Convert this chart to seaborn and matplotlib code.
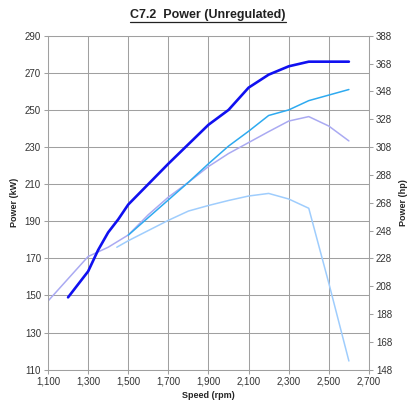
import matplotlib
matplotlib.use("Agg")
import matplotlib.pyplot as plt
import seaborn as sns
from matplotlib.lines import Line2D

# values (kW vs rpm)
rpm_a = [1200, 1300, 1350, 1400, 1450, 1500, 1600, 1700, 1800, 1900, 2000, 2100, 2200, 2300, 2400, 2500, 2600]
kw_a = [149, 163, 174.5, 184, 191, 199, 210, 221, 231.5, 242, 250, 262, 269, 273.5, 276, 276, 276]

rpm_b = [1500, 1600, 1700, 1800, 1900, 2000, 2100, 2200, 2300, 2400, 2500, 2600]
kw_b = [182.5, 192, 201.5, 211, 221, 230.5, 238.5, 247, 250, 255, 258, 261]

rpm_c = [1100, 1200, 1300, 1400, 1500, 1600, 1700, 1800, 1900, 2000, 2100, 2200, 2300, 2400, 2500, 2600]
kw_c = [147, 159, 171, 176, 182.6, 193.5, 203, 211, 219.5, 226.5, 232.4, 238.3, 244, 246.4, 241.3, 233.3]

rpm_d = [1443, 1500, 1600, 1700, 1800, 1900, 2000, 2100, 2200, 2300, 2400, 2500, 2600]
kw_d = [176, 179.5, 185, 190.5, 195.5, 198.5, 201.2, 203.6, 205, 202, 197, 156.6, 114.7]

x_ticks = list(range(1100, 2701, 200))
kw_ticks = list(range(110, 291, 20))
hp_ticks = list(range(148, 389, 20))

sns.set_style("white")
plt.rcParams['font.family'] = ['Liberation Sans', 'DejaVu Sans']

fig = plt.figure(figsize=(4.12, 4.01), dpi=100)
ax = fig.add_axes([0.1165, 0.078, 0.779, 0.833])

series = [
    (rpm_d, kw_d, "#9fcdfd", 1.1),
    (rpm_c, kw_c, "#aaaaf2", 1.1),
    (rpm_b, kw_b, "#2eaaf0", 1.1),
    (rpm_a, kw_a, "#1010f0", 1.9),
]
for xs, ys, col, lw in series:
    sns.lineplot(x=xs, y=ys, ax=ax, color=col, linewidth=lw, estimator=None, sort=False)

ax.set_xlim(1100, 2700)
ax.set_ylim(110, 290)
ax.set_xticks(x_ticks)
ax.set_xticklabels([f"{v:,}" for v in x_ticks])
ax.set_yticks(kw_ticks)
ax.grid(True, color="#a0a0a0", linewidth=0.75)
ax.set_axisbelow(True)
for s in ax.spines.values():
    s.set_color("#a0a0a0")
    s.set_linewidth(0.75)
ax.tick_params(axis="both", which="both", direction="out", length=3, width=0.75,
               color="#a0a0a0", labelsize=7, labelcolor="#333333", pad=2,
               left=True, bottom=True)
ax.set_xlabel("Speed (rpm)", fontsize=6.5, fontweight="bold", labelpad=3)
ax.set_ylabel("Power (kW)", fontsize=6.5, fontweight="bold", labelpad=4)

ax2 = ax.twinx()
ax2.set_ylim(148, 388)
ax2.set_yticks(hp_ticks)
ax2.grid(False)
for s in ax2.spines.values():
    s.set_visible(False)
ax2.tick_params(axis="y", direction="out", length=3, width=0.75, color="#a0a0a0",
                labelsize=7, labelcolor="#333333", pad=2, right=True)
ax2.set_ylabel("Power (hp)", fontsize=6.5, fontweight="bold", rotation=90, labelpad=5)

title = fig.text(0.505, 0.962, "C7.2  Power (Unregulated)", ha="center", va="center",
                 fontsize=9, fontweight="bold", color="#222222")
fig.canvas.draw()
bb = title.get_window_extent().transformed(fig.transFigure.inverted())
fig.add_artist(Line2D([bb.x0, bb.x1], [bb.y0 - 0.003, bb.y0 - 0.003],
                      transform=fig.transFigure, color="#222222", linewidth=0.9))

fig.savefig("out.png", dpi=100)
